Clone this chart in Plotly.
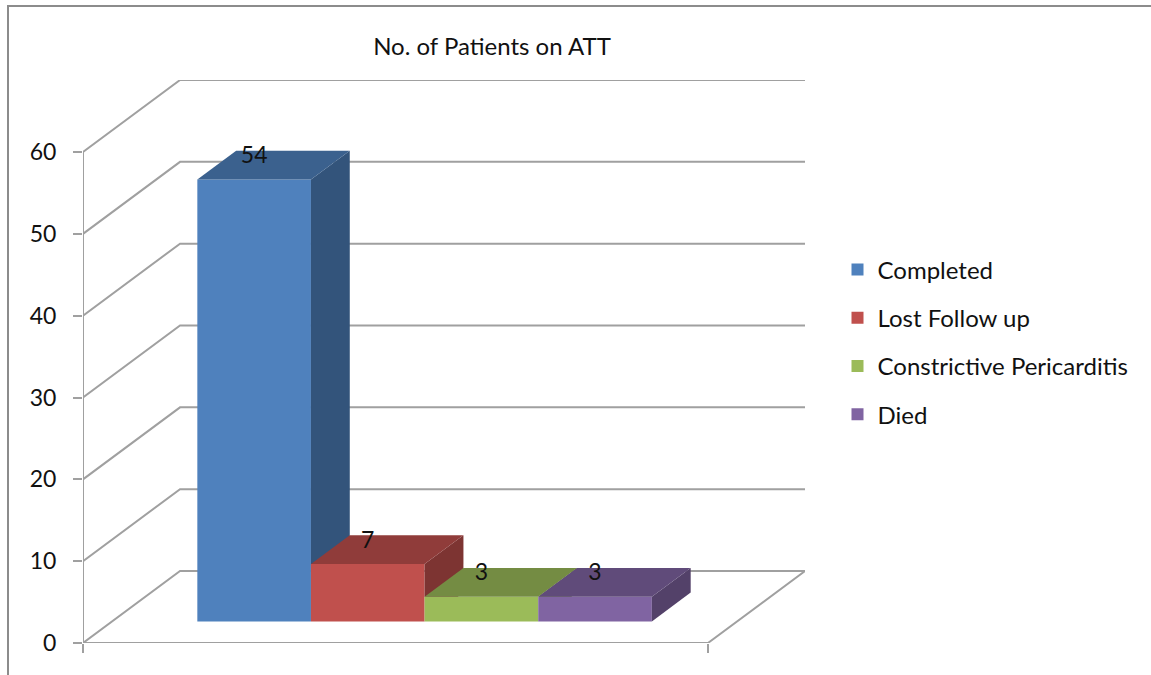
import plotly.graph_objects as go

# ---------------- data ----------------
categories = ["Completed", "Lost Follow up", "Constrictive Pericarditis", "Died"]
values = [54, 7, 3, 3]
front_colors = ["#4F81BD", "#C0504D", "#9BBB59", "#8064A2"]
top_colors = ["#3B618E", "#903C3A", "#748C43", "#604B7A"]
side_colors = ["#33547B", "#7D3432", "#657A3A", "#534169"]
y_ticks = [0, 10, 20, 30, 40, 50, 60]
title_text = "No. of Patients on ATT"

# ---------------- 3D projection parameters (axis units) ----------------
BAR_W = 1.0
GAP = 1.5
CAT_W = len(values) * BAR_W + GAP
DX = 0.854          # full depth, x units
DY = 8.8            # full depth, value units
F0, F1 = 0.3, 0.7   # bar front / back depth fractions
Y_MAX = max(y_ticks)
GRID = "#A0A0A0"
FONT = "Lato"
TXT = "#111111"


def clip_above(poly, yc):
    out = []
    n = len(poly)
    for k in range(n):
        p, q = poly[k], poly[(k + 1) % n]
        pin, qin = p[1] >= yc, q[1] >= yc
        if pin:
            out.append(p)
        if pin != qin:
            t = (yc - p[1]) / (q[1] - p[1])
            out.append((p[0] + t * (q[0] - p[0]), yc))
    return out


fig = go.Figure()
shapes = []

# back walls / gridlines
for v in y_ticks:
    path = "M {} {} L {} {} L {} {}".format(0, v, DX, v + DY, CAT_W + DX, v + DY)
    shapes.append(dict(type="path", path=path, xref="x", yref="y", layer="below",
                       line=dict(color=GRID, width=2)))
# floor front + right edges
shapes.append(dict(type="path",
                   path="M {} {} L {} {} L {} {}".format(0, 0, CAT_W, 0, CAT_W + DX, DY),
                   xref="x", yref="y", layer="below", line=dict(color=GRID, width=2)))
# front-left vertical axis
shapes.append(dict(type="line", x0=0, x1=0, y0=0, y1=Y_MAX, xref="x", yref="y",
                   layer="below", line=dict(color=GRID, width=2)))
# outer chart frame
shapes.append(dict(type="rect", xref="paper", yref="paper",
                   x0=(8 - 83) / 722, x1=1.6, y0=-0.2, y1=(643 - 6) / 563,
                   line=dict(color="#8C8C8C", width=2), fillcolor="rgba(0,0,0,0)",
                   layer="below"))

# front faces as bars
n = len(values)
for i, (cat, v) in enumerate(zip(categories, values)):
    xl = GAP / 2 + i * BAR_W + F0 * DX
    fig.add_trace(go.Bar(
        x=[xl + BAR_W / 2], y=[v], base=[F0 * DY], width=[BAR_W],
        name=cat, marker=dict(color=front_colors[i], line=dict(width=0)),
        legendgroup=cat, showlegend=True, hoverinfo="skip"))

# side & top faces
ddx = (F1 - F0) * DX
ddy = (F1 - F0) * DY
for i, v in enumerate(values):
    xl = GAP / 2 + i * BAR_W + F0 * DX
    xr = xl + BAR_W
    yb = F0 * DY
    yt = v + F0 * DY
    side = [(xr, yb), (xr, yt), (xr + ddx, yt + ddy), (xr + ddx, yb + ddy)]
    if i + 1 < n:
        side = clip_above(side, values[i + 1] + F0 * DY)
    if len(side) >= 3:
        fig.add_trace(go.Scatter(
            x=[p[0] for p in side] + [side[0][0]], y=[p[1] for p in side] + [side[0][1]],
            mode="lines", fill="toself", fillcolor=side_colors[i],
            line=dict(width=0, color=side_colors[i]), showlegend=False, hoverinfo="skip"))
    top = [(xl, yt), (xr, yt), (xr + ddx, yt + ddy), (xl + ddx, yt + ddy)]
    fig.add_trace(go.Scatter(
        x=[p[0] for p in top] + [top[0][0]], y=[p[1] for p in top] + [top[0][1]],
        mode="lines", fill="toself", fillcolor=top_colors[i],
        line=dict(width=0, color=top_colors[i]), showlegend=False, hoverinfo="skip"))

# data labels
fig.add_trace(go.Scatter(
    x=[GAP / 2 + i * BAR_W + F0 * DX + BAR_W / 2 for i in range(n)],
    y=[v + F1 * DY - 0.8 for v in values],
    mode="text", text=[str(v) for v in values], textposition="middle center",
    textfont=dict(family=FONT, size=23, color=TXT),
    showlegend=False, hoverinfo="skip", cliponaxis=False))

fig.update_layout(
    width=1151, height=675,
    margin=dict(l=83, r=346, t=80, b=32),
    paper_bgcolor="white", plot_bgcolor="white",
    barmode="overlay",
    shapes=shapes,
    title=dict(text=title_text, x=(492 - 83) / 722, xref="paper", xanchor="center",
               y=1 - 47 / 675, yanchor="middle",
               font=dict(family=FONT, size=24, color=TXT)),
    font=dict(family=FONT, color=TXT),
    legend=dict(x=(837.5 - 83) / 722, xanchor="left", y=(643 - 342) / 563, yanchor="middle",
                font=dict(family=FONT, size=24, color=TXT),
                tracegroupgap=14, bgcolor="rgba(0,0,0,0)"),
    xaxis=dict(range=[0, CAT_W + DX], showgrid=False, zeroline=False, showline=False,
               tickvals=[0, CAT_W], ticks="outside", ticklen=9, tickwidth=2,
               tickcolor=GRID, showticklabels=False, fixedrange=True),
    yaxis=dict(range=[0, Y_MAX + DY], showgrid=False, zeroline=False, showline=False,
               tickvals=y_ticks, ticktext=[str(t) for t in y_ticks],
               ticks="outside", ticklen=9, tickwidth=2, tickcolor=GRID,
               ticklabelstandoff=12,
               tickfont=dict(family=FONT, size=23, color=TXT), fixedrange=True),
)

fig.write_html("out.html")
